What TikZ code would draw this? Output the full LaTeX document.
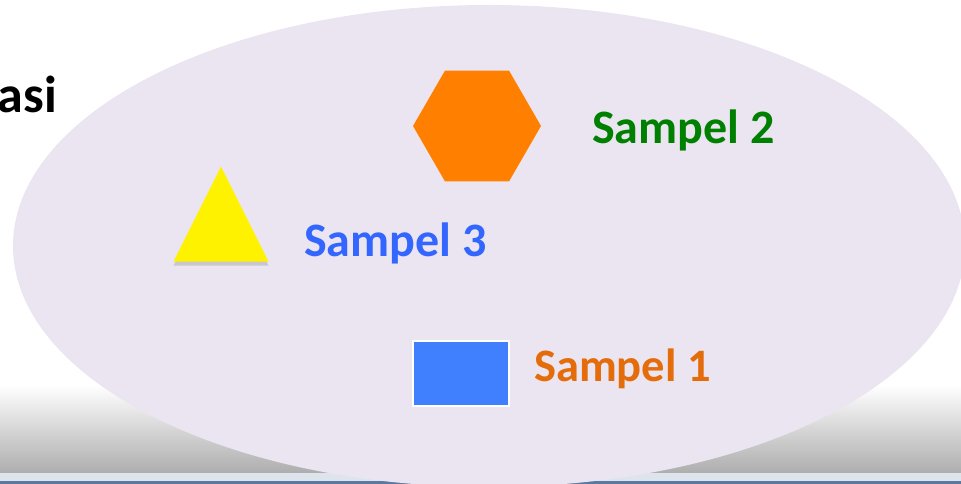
\documentclass[tikz,border=0pt]{standalone}
\usepackage{fontspec}
\setmainfont{Carlito}
\usetikzlibrary{shapes.geometric,shadows}

\definecolor{popfill}{RGB}{234,229,240}
\definecolor{hexorange}{RGB}{255,128,0}
\definecolor{rectblue}{RGB}{64,128,255}
\definecolor{txtgreen}{RGB}{0,128,0}
\definecolor{txtblue}{RGB}{51,102,255}
\definecolor{txtorange}{RGB}{228,108,10}
\definecolor{barline}{RGB}{90,120,160}

\tikzset{
  sampel/.style={inner sep=0pt,anchor=base west,font=\fontsize{48}{57}\selectfont\bfseries},
  title/.style={inner sep=0pt,anchor=base east,font=\fontsize{52}{62}\selectfont\bfseries},
}

\begin{document}
\begin{tikzpicture}[x=1pt,y=-1pt]
   \useasboundingbox (0,0) rectangle (961,484);
   \clip (0,0) rectangle (961,484);
   % bottom bar
   \shade[top color=white,middle color=black!7,bottom color=black!32] (0,385) rectangle (961,473);
   \fill[barline!20] (0,473) rectangle (961,481);
   \fill[barline] (0,481) rectangle (961,484);
   % population
   \fill[popfill] (489,246) ellipse [x radius=476, y radius=241];
   \node[title] (pop) at (57,113) {asi};
   % samples
   \node[regular polygon,regular polygon sides=6,minimum size=128pt,inner sep=0pt,
         fill=hexorange] (hex) at (477,126) {};
   \node[isosceles triangle,isosceles triangle stretches,shape border rotate=90,
         minimum width=95pt,minimum height=95pt,inner sep=0pt,fill=yellow,anchor=apex,
         drop shadow={shadow xshift=0pt,shadow yshift=-4pt,opacity=0.3}]
         (tri) at (221,166) {};
   \node[rectangle,minimum width=96pt,minimum height=65pt,inner sep=0pt,
         fill=rectblue,draw=white,line width=2pt] (rect) at (461,373.5) {};
   \node[sampel,text=txtgreen] (s2) at (592,143) {Sampel 2};
   \node[sampel,text=txtblue] (s3) at (304,256) {Sampel 3};
   \node[sampel,text=txtorange,font=\fontsize{46.5}{55}\selectfont\bfseries] (s1) at (534,381) {Sampel 1};
\end{tikzpicture}
\end{document}
